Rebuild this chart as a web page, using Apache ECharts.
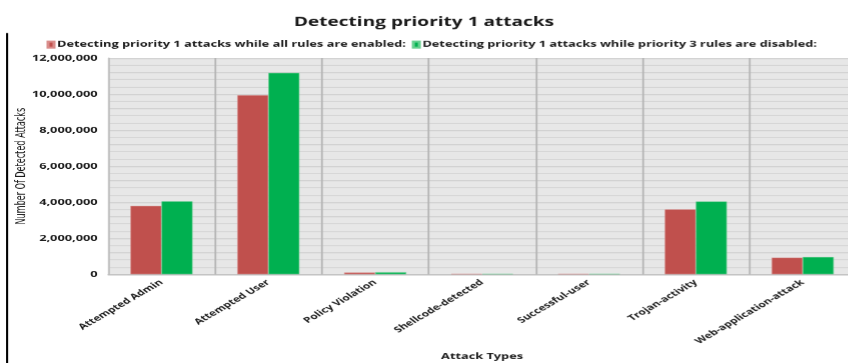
<!DOCTYPE html>
<html>
<head>
<meta charset="utf-8">
<script src="https://cdn.jsdelivr.net/npm/echarts@6/dist/echarts.min.js"></script>
<style>
  html, body { margin: 0; padding: 0; background: #ffffff; overflow: hidden; }
  /* the chart is laid out narrow and widened 1.5x, giving the wide, flat lettering */
  #chart { width: 565.333px; height: 363px; transform: scaleX(1.5); transform-origin: 0 0; }
</style>
</head>
<body>
<div id="chart"></div>
<script>
// Attack categories on the x axis
const categories = [
  'Attempted Admin', 'Attempted User', 'Policy Violation', 'Shellcode-detected',
  'Successful-user', 'Trojan-activity', 'Web-application-attack'
];
// Detected priority 1 attacks, all rules enabled
const allRulesEnabled = [3790000, 9940000, 95000, 20000, 20000, 3600000, 920000];
// Detected priority 1 attacks, priority 3 rules disabled
const p3RulesDisabled = [4050000, 11180000, 110000, 22000, 22000, 4040000, 960000];

const seriesNames = [
  'Detecting priority 1 attacks while all rules are enabled:',
  'Detecting priority 1 attacks while priority 3 rules are disabled:'
];
const yTicks = { min: 0, max: 12000000, interval: 2000000 };

const fontMain = '"Open Sans", "DejaVu Sans", sans-serif';
const ink = '#1a1a1a';

const chart = echarts.init(document.getElementById('chart'), null, { devicePixelRatio: 1.5 });
chart.setOption({
  animation: false,
  backgroundColor: '#ffffff',
  title: {
    text: 'Detecting priority 1 attacks',
    left: 'center',
    top: 11,
    textStyle: { fontFamily: fontMain, fontWeight: 'bold', fontSize: 12.7, color: ink }
  },
  legend: {
    top: 35,
    left: 26,
    itemWidth: 4,
    itemHeight: 6,
    itemGap: 4,
    icon: 'rect',
    textStyle: { fontFamily: fontMain, fontWeight: 'bold', fontSize: 8.5, color: ink, padding: [0, 0, 0, -3] },
    data: seriesNames
  },
  grid: {
    left: 72,
    right: -5.4,
    top: 58,
    bottom: 89,
    outerBoundsMode: 'none',
    containLabel: false,
    show: true,
    backgroundColor: '#e7e7e7',
    borderWidth: 0
  },
  xAxis: {
    type: 'category',
    data: categories,
    name: 'Attack Types',
    nameLocation: 'middle',
    nameGap: 75,
    nameTextStyle: { fontFamily: fontMain, fontWeight: 'bold', fontSize: 8.5, color: ink },
    axisLine: { show: true, lineStyle: { color: '#bdbdbd', width: 1 } },
    axisTick: { show: false },
    splitLine: { show: true, lineStyle: { color: '#b5b5b5', width: 1.2 } },
    axisLabel: {
      rotate: 41,
      interval: 0,
      margin: 7,
      fontFamily: fontMain,
      fontWeight: 'bold',
      fontSize: 8,
      color: ink
    }
  },
  yAxis: {
    type: 'value',
    min: yTicks.min,
    max: yTicks.max,
    interval: yTicks.interval,
    name: 'Number Of Detected Attacks',
    nameLocation: 'middle',
    nameGap: 53,
    nameMoveOverlap: false,
    nameTextStyle: { fontFamily: '"Liberation Sans Narrow", "DejaVu Sans Condensed", sans-serif', fontSize: 9, color: ink },
    axisLine: { show: true, lineStyle: { color: '#c4c4c4' } },
    axisTick: { show: false },
    axisLabel: {
      margin: 7,
      fontFamily: fontMain,
      fontWeight: 'bold',
      fontSize: 8.5,
      color: ink,
      formatter: v => v.toLocaleString('en-US')
    },
    splitLine: { show: true, lineStyle: { color: '#d2d2d2', width: 1 } },
    minorTick: { show: false, splitNumber: 5 },
    minorSplitLine: { show: true, lineStyle: { color: '#d2d2d2', width: 1 } }
  },
  series: [
    {
      name: seriesNames[0],
      type: 'bar',
      data: allRulesEnabled,
      barWidth: 20.7,
      barGap: '0%',
      itemStyle: { color: '#c0504d', borderColor: '#d98c8a', borderWidth: 0.4 }
    },
    {
      name: seriesNames[1],
      type: 'bar',
      data: p3RulesDisabled,
      barWidth: 20.7,
      barGap: '0%',
      itemStyle: { color: '#00b050', borderColor: '#66d08f', borderWidth: 0.4 }
    }
  ],
  graphic: [
    { type: 'rect', left: 4, top: 33, shape: { width: 1.4, height: 330 }, style: { fill: '#000000' } }
  ]
});
</script>
</body>
</html>
